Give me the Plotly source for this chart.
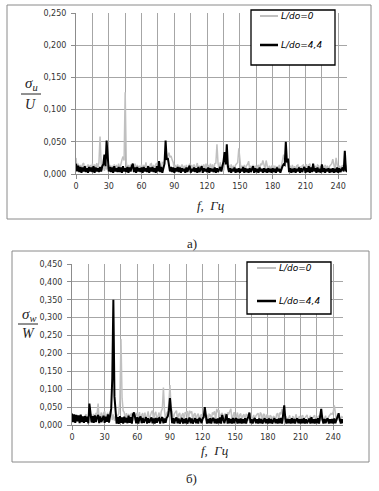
import plotly.graph_objects as go

# ---------------- data ----------------
# (a) sigma_u / U spectra, f = 0..248 Hz (1 Hz step)
a_ld0 = [
    0.025, 0.008, 0.016, 0.006, 0.014, 0.007, 0.015, 0.017, 0.006, 0.013, 0.005, 0.015, 0.007, 0.014, 0.006, 0.016, 0.008, 0.015, 0.006, 0.017,
    0.007, 0.018, 0.058, 0.017, 0.006, 0.014, 0.005, 0.015, 0.007, 0.013, 0.006, 0.014, 0.005, 0.013, 0.007, 0.015, 0.006, 0.014, 0.005, 0.016,
    0.007, 0.018, 0.022, 0.027, 0.021, 0.127, 0.019, 0.006, 0.014, 0.005, 0.015, 0.007, 0.013, 0.006, 0.016, 0.005, 0.014, 0.007, 0.013, 0.006,
    0.015, 0.005, 0.014, 0.007, 0.018, 0.006, 0.013, 0.005, 0.015, 0.016, 0.006, 0.014, 0.005, 0.015, 0.017, 0.007, 0.019, 0.016, 0.006, 0.018,
    0.017, 0.020, 0.022, 0.024, 0.028, 0.033, 0.026, 0.028, 0.022, 0.018, 0.006, 0.014, 0.005, 0.015, 0.007, 0.013, 0.006, 0.015, 0.005, 0.013,
    0.007, 0.014, 0.005, 0.013, 0.016, 0.006, 0.014, 0.005, 0.015, 0.007, 0.013, 0.017, 0.006, 0.013, 0.005, 0.014, 0.007, 0.015, 0.006, 0.016,
    0.005, 0.014, 0.007, 0.016, 0.006, 0.015, 0.005, 0.016, 0.017, 0.046, 0.016, 0.006, 0.018, 0.007, 0.014, 0.005, 0.015, 0.016, 0.018, 0.006,
    0.014, 0.005, 0.015, 0.006, 0.013, 0.007, 0.014, 0.016, 0.018, 0.040, 0.015, 0.006, 0.013, 0.005, 0.014, 0.007, 0.013, 0.015, 0.020, 0.006,
    0.013, 0.005, 0.014, 0.006, 0.013, 0.007, 0.012, 0.014, 0.006, 0.016, 0.014, 0.021, 0.015, 0.006, 0.021, 0.014, 0.005, 0.013, 0.006, 0.012,
    0.014, 0.005, 0.013, 0.006, 0.012, 0.007, 0.014, 0.005, 0.015, 0.018, 0.030, 0.020, 0.022, 0.018, 0.016, 0.006, 0.013, 0.005, 0.014, 0.006,
    0.012, 0.005, 0.013, 0.014, 0.006, 0.012, 0.005, 0.013, 0.014, 0.006, 0.013, 0.015, 0.005, 0.014, 0.016, 0.006, 0.012, 0.014, 0.005, 0.013,
    0.006, 0.014, 0.013, 0.005, 0.012, 0.006, 0.013, 0.005, 0.014, 0.006, 0.013, 0.005, 0.012, 0.014, 0.016, 0.023, 0.015, 0.006, 0.025, 0.014,
    0.005, 0.013, 0.006, 0.012, 0.013, 0.005, 0.012, 0.013, 0.006,
]
a_ld44 = [
    0.016, 0.004, 0.013, 0.003, 0.011, 0.002, 0.010, 0.004, 0.012, 0.003, 0.009, 0.002, 0.011, 0.004, 0.010, 0.003, 0.012, 0.002, 0.010, 0.004,
    0.009, 0.003, 0.011, 0.004, 0.012, 0.015, 0.030, 0.012, 0.052, 0.018, 0.004, 0.011, 0.003, 0.010, 0.002, 0.012, 0.004, 0.009, 0.003, 0.011,
    0.003, 0.010, 0.002, 0.012, 0.004, 0.009, 0.003, 0.011, 0.002, 0.010, 0.004, 0.012, 0.016, 0.003, 0.010, 0.002, 0.011, 0.004, 0.009, 0.003,
    0.010, 0.002, 0.011, 0.004, 0.009, 0.003, 0.012, 0.002, 0.010, 0.004, 0.011, 0.003, 0.009, 0.002, 0.012, 0.004, 0.020, 0.003, 0.011, 0.002,
    0.012, 0.016, 0.052, 0.022, 0.025, 0.014, 0.004, 0.011, 0.003, 0.010, 0.002, 0.009, 0.004, 0.011, 0.003, 0.010, 0.002, 0.009, 0.004, 0.008,
    0.002, 0.010, 0.003, 0.009, 0.013, 0.002, 0.008, 0.004, 0.010, 0.003, 0.009, 0.002, 0.011, 0.003, 0.008, 0.012, 0.002, 0.009, 0.004, 0.008,
    0.003, 0.010, 0.002, 0.009, 0.004, 0.008, 0.003, 0.010, 0.002, 0.009, 0.003, 0.008, 0.011, 0.004, 0.012, 0.020, 0.034, 0.015, 0.046, 0.012,
    0.003, 0.009, 0.002, 0.008, 0.004, 0.010, 0.002, 0.008, 0.003, 0.009, 0.002, 0.008, 0.004, 0.011, 0.002, 0.009, 0.003, 0.008, 0.002, 0.009,
    0.003, 0.008, 0.012, 0.002, 0.009, 0.003, 0.008, 0.002, 0.010, 0.004, 0.008, 0.002, 0.009, 0.003, 0.008, 0.002, 0.009, 0.003, 0.008, 0.002,
    0.009, 0.003, 0.008, 0.002, 0.010, 0.004, 0.008, 0.002, 0.009, 0.012, 0.015, 0.014, 0.050, 0.018, 0.024, 0.003, 0.009, 0.002, 0.008, 0.003,
    0.009, 0.002, 0.008, 0.004, 0.010, 0.002, 0.009, 0.003, 0.008, 0.011, 0.002, 0.009, 0.003, 0.012, 0.002, 0.010, 0.003, 0.016, 0.004, 0.009,
    0.002, 0.010, 0.003, 0.008, 0.002, 0.015, 0.003, 0.009, 0.002, 0.008, 0.004, 0.009, 0.002, 0.008, 0.003, 0.009, 0.002, 0.008, 0.003, 0.010,
    0.002, 0.009, 0.003, 0.008, 0.010, 0.004, 0.036, 0.006, 0.003,
]

# (б) sigma_w / W spectra, f = 0..249 Hz (1 Hz step)
b_ld0 = [
    0.030, 0.012, 0.028, 0.014, 0.026, 0.010, 0.025, 0.013, 0.027, 0.011, 0.024, 0.012, 0.026, 0.030, 0.013, 0.028, 0.033, 0.012, 0.030, 0.014,
    0.031, 0.013, 0.034, 0.030, 0.060, 0.014, 0.028, 0.035, 0.012, 0.033, 0.038, 0.015, 0.029, 0.034, 0.013, 0.036, 0.040, 0.014, 0.030, 0.012,
    0.025, 0.011, 0.027, 0.032, 0.070, 0.240, 0.075, 0.040, 0.035, 0.013, 0.033, 0.012, 0.031, 0.014, 0.030, 0.032, 0.012, 0.033, 0.013, 0.030,
    0.034, 0.013, 0.036, 0.014, 0.028, 0.033, 0.012, 0.035, 0.013, 0.032, 0.038, 0.014, 0.030, 0.036, 0.040, 0.013, 0.031, 0.037, 0.014, 0.030,
    0.035, 0.013, 0.038, 0.045, 0.105, 0.040, 0.014, 0.033, 0.038, 0.060, 0.112, 0.050, 0.038, 0.013, 0.031, 0.036, 0.040, 0.014, 0.030, 0.034,
    0.012, 0.028, 0.033, 0.013, 0.036, 0.032, 0.039, 0.014, 0.040, 0.033, 0.038, 0.012, 0.029, 0.033, 0.013, 0.027, 0.032, 0.012, 0.026, 0.030,
    0.012, 0.031, 0.028, 0.013, 0.029, 0.011, 0.030, 0.028, 0.013, 0.035, 0.031, 0.038, 0.014, 0.045, 0.036, 0.042, 0.013, 0.030, 0.034, 0.012,
    0.028, 0.032, 0.013, 0.035, 0.031, 0.038, 0.045, 0.014, 0.030, 0.036, 0.012, 0.029, 0.035, 0.013, 0.028, 0.032, 0.012, 0.026, 0.030, 0.011,
    0.031, 0.028, 0.012, 0.029, 0.032, 0.011, 0.024, 0.028, 0.012, 0.026, 0.030, 0.033, 0.013, 0.035, 0.030, 0.012, 0.031, 0.028, 0.011, 0.029,
    0.026, 0.011, 0.027, 0.024, 0.010, 0.025, 0.022, 0.012, 0.030, 0.033, 0.013, 0.035, 0.030, 0.045, 0.032, 0.012, 0.025, 0.022, 0.011, 0.023,
    0.027, 0.010, 0.021, 0.025, 0.011, 0.024, 0.030, 0.012, 0.022, 0.025, 0.010, 0.024, 0.027, 0.011, 0.020, 0.024, 0.028, 0.010, 0.022, 0.026,
    0.011, 0.020, 0.024, 0.027, 0.010, 0.019, 0.023, 0.026, 0.011, 0.024, 0.028, 0.012, 0.022, 0.026, 0.010, 0.020, 0.024, 0.028, 0.032, 0.030,
    0.036, 0.055, 0.030, 0.012, 0.022, 0.026, 0.010, 0.019, 0.023, 0.020,
]
b_ld44 = [
    0.032, 0.008, 0.030, 0.006, 0.028, 0.010, 0.027, 0.005, 0.029, 0.008, 0.024, 0.006, 0.025, 0.009, 0.023, 0.005, 0.060, 0.022, 0.007, 0.025,
    0.006, 0.027, 0.008, 0.022, 0.028, 0.005, 0.024, 0.008, 0.021, 0.026, 0.006, 0.023, 0.009, 0.030, 0.007, 0.035, 0.045, 0.130, 0.350, 0.080,
    0.030, 0.004, 0.022, 0.003, 0.025, 0.006, 0.021, 0.004, 0.023, 0.007, 0.020, 0.005, 0.026, 0.006, 0.022, 0.004, 0.030, 0.035, 0.021, 0.005,
    0.022, 0.004, 0.019, 0.024, 0.005, 0.020, 0.006, 0.018, 0.022, 0.004, 0.019, 0.006, 0.017, 0.021, 0.005, 0.018, 0.004, 0.020, 0.006, 0.017,
    0.019, 0.004, 0.017, 0.022, 0.005, 0.018, 0.006, 0.020, 0.024, 0.040, 0.075, 0.022, 0.005, 0.019, 0.004, 0.017, 0.021, 0.005, 0.018, 0.004,
    0.016, 0.020, 0.004, 0.017, 0.005, 0.019, 0.004, 0.016, 0.021, 0.005, 0.018, 0.004, 0.015, 0.019, 0.005, 0.017, 0.004, 0.020, 0.015, 0.005,
    0.018, 0.022, 0.050, 0.016, 0.004, 0.017, 0.005, 0.019, 0.004, 0.016, 0.020, 0.005, 0.017, 0.004, 0.018, 0.005, 0.021, 0.004, 0.028, 0.016,
    0.005, 0.018, 0.030, 0.004, 0.019, 0.005, 0.017, 0.004, 0.020, 0.005, 0.016, 0.019, 0.004, 0.017, 0.005, 0.018, 0.004, 0.016, 0.005, 0.019,
    0.004, 0.017, 0.022, 0.035, 0.005, 0.016, 0.004, 0.015, 0.019, 0.005, 0.016, 0.004, 0.018, 0.005, 0.017, 0.004, 0.015, 0.019, 0.005, 0.016,
    0.004, 0.018, 0.005, 0.017, 0.004, 0.015, 0.019, 0.005, 0.016, 0.004, 0.018, 0.005, 0.020, 0.004, 0.028, 0.055, 0.018, 0.004, 0.017, 0.005,
    0.016, 0.004, 0.019, 0.005, 0.017, 0.004, 0.015, 0.018, 0.005, 0.016, 0.004, 0.017, 0.005, 0.019, 0.004, 0.016, 0.005, 0.015, 0.018, 0.004,
    0.022, 0.005, 0.016, 0.004, 0.017, 0.005, 0.019, 0.004, 0.020, 0.045, 0.016, 0.004, 0.017, 0.005, 0.015, 0.018, 0.004, 0.016, 0.005, 0.017,
    0.004, 0.018, 0.005, 0.016, 0.020, 0.033, 0.015, 0.004, 0.016, 0.005,
]

# frequency grids (Hz), one value per sample
freq_a0 = list(range(len(a_ld0)))
freq_a44 = list(range(len(a_ld44)))
freq_b0 = list(range(len(b_ld0)))
freq_b44 = list(range(len(b_ld44)))

series_names = ["L/do=0", "L/do=4,4"]
x_ticks = [0, 30, 60, 90, 120, 150, 180, 210, 240]

# ---------------- layout helpers ----------------
W, H = 379, 491
def px(x):
    return x / W
def py(y):
    return 1 - y / H

GRAY = "#c0c0c0"
GRID = "#a6a6a6"
AXL = "#8c8c8c"
TICKFONT = dict(family="DejaVu Sans", size=8, color="#333333")

fig = go.Figure()
fig.add_trace(go.Scatter(x=freq_a0, y=a_ld0, name=series_names[0], mode="lines",
                         line=dict(color=GRAY, width=1.5), xaxis="x", yaxis="y", showlegend=False))
fig.add_trace(go.Scatter(x=freq_a44, y=a_ld44, name=series_names[1], mode="lines",
                         line=dict(color="black", width=2), xaxis="x", yaxis="y", showlegend=False))
fig.add_trace(go.Scatter(x=freq_b0, y=b_ld0, name=series_names[0], mode="lines",
                         line=dict(color=GRAY, width=1.5), xaxis="x2", yaxis="y2", showlegend=False))
fig.add_trace(go.Scatter(x=freq_b44, y=b_ld44, name=series_names[1], mode="lines",
                         line=dict(color="black", width=2), xaxis="x2", yaxis="y2", showlegend=False))

def xax(domain, rng, anchor):
    return dict(domain=domain, range=rng, anchor=anchor, tickvals=x_ticks,
                showgrid=True, gridcolor=GRID, gridwidth=1,
                minor=dict(dtick=15, tick0=0, showgrid=True, gridcolor=GRID, gridwidth=1),
                showline=True, linecolor=AXL, linewidth=1, ticks="outside", ticklen=4,
                tickcolor=AXL, tickfont=TICKFONT, zeroline=False, fixedrange=True,
                automargin=False)

def yax(domain, rng, anchor):
    return dict(domain=domain, range=rng, anchor=anchor, dtick=0.05, tick0=0, tickformat=".3f",
                showgrid=True, gridcolor=GRID, gridwidth=1,
                showline=True, linecolor=AXL, linewidth=1, ticks="outside", ticklen=4,
                tickcolor=AXL, tickfont=TICKFONT, zeroline=False, fixedrange=True,
                ticklabelstandoff=3, automargin=False)

shapes = []
annotations = []

# outer frames
for (x0, y0, x1, y1) in [(7, 5, 371, 219), (12, 251, 369, 462)]:
    shapes.append(dict(type="rect", xref="paper", yref="paper", x0=px(x0), x1=px(x1),
                       y0=py(y1), y1=py(y0), line=dict(color="#8a8a8a", width=1), layer="below"))

# legends (box, sample lines, labels)
legends = [
    dict(box=(251, 10, 335, 65), rows=(16, 45), lx=(260, 278)),
    dict(box=(247, 262, 331, 314), rows=(268, 301), lx=(257, 276)),
]
for lg in legends:
    bx0, by0, bx1, by1 = lg["box"]
    shapes.append(dict(type="rect", xref="paper", yref="paper", x0=px(bx0), x1=px(bx1),
                       y0=py(by1), y1=py(by0), line=dict(color="black", width=1.3),
                       fillcolor="white", layer="above"))
    for name, ry, col, wd in zip(series_names, lg["rows"], [GRAY, "black"], [2, 2.5]):
        shapes.append(dict(type="line", xref="paper", yref="paper",
                           x0=px(lg["lx"][0]), x1=px(lg["lx"][1]), y0=py(ry), y1=py(ry),
                           line=dict(color=col, width=wd), layer="above"))
        annotations.append(dict(text=name, xref="paper", yref="paper", x=px(lg["lx"][1] + 1),
                                y=py(ry), xanchor="left", yanchor="middle", showarrow=False,
                                font=dict(family="DejaVu Sans", size=9, color="black", style="italic")))

# y-axis fraction titles
SERIF = "Liberation Serif"
for num, den, cx, ys, yl, yd, lx0, lx1 in [
    ("σ<sub>u</sub>", "U", 31, 84, 94, 104, 21, 41),
    ("σ<sub>w</sub>", "W", 29, 315, 324, 333, 18, 38),
]:
    annotations.append(dict(text=num, xref="paper", yref="paper", x=px(cx), y=py(ys),
                            xanchor="center", yanchor="middle", showarrow=False,
                            font=dict(family=SERIF, size=15, color="#222", style="italic")))
    annotations.append(dict(text=den, xref="paper", yref="paper", x=px(cx - 1), y=py(yd),
                            xanchor="center", yanchor="middle", showarrow=False,
                            font=dict(family=SERIF, size=14, color="#222", style="italic")))
    shapes.append(dict(type="line", xref="paper", yref="paper", x0=px(lx0), x1=px(lx1),
                       y0=py(yl), y1=py(yl), line=dict(color="#222", width=1)))

# x-axis titles and panel labels
for txt, cx, cy in [("f,  Гц", 211, 205), ("f,  Гц", 215, 450)]:
    annotations.append(dict(text=txt, xref="paper", yref="paper", x=px(cx), y=py(cy),
                            xanchor="center", yanchor="middle", showarrow=False,
                            font=dict(family=SERIF, size=13, color="#222", style="italic")))
for txt, cx, cy in [("а)", 192, 243), ("б)", 191, 478)]:
    annotations.append(dict(text=txt, xref="paper", yref="paper", x=px(cx), y=py(cy),
                            xanchor="center", yanchor="middle", showarrow=False,
                            font=dict(family=SERIF, size=13, color="#222")))

fig.update_layout(
    width=W, height=H, margin=dict(l=0, r=0, t=0, b=0, autoexpand=False),
    paper_bgcolor="white", plot_bgcolor="white",
    separators=", ",
    showlegend=False,
    xaxis=xax([px(76), px(347)], [0, 248], "y"),
    yaxis=yax([py(174), py(13)], [0, 0.25], "x"),
    xaxis2=xax([px(72), px(343)], [0, 249], "y2"),
    yaxis2=yax([py(425), py(264)], [0, 0.45], "x2"),
    shapes=shapes, annotations=annotations,
)

fig.write_html(
    "out.html",
    config={"displayModeBar": False},
    post_script="document.body.style.margin='0';document.body.style.overflow='hidden';",
)
